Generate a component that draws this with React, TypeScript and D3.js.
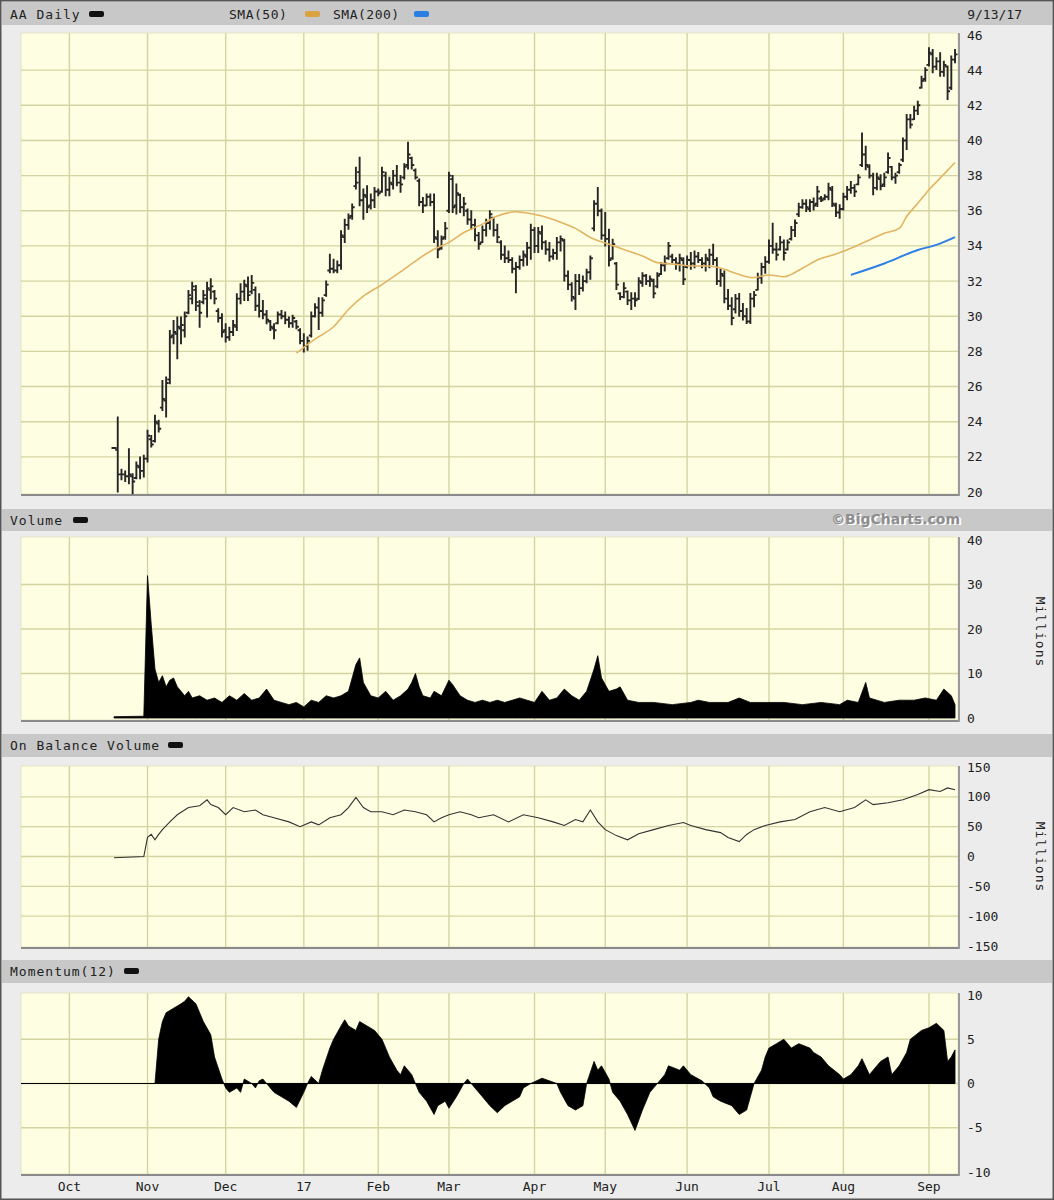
import React from 'react';
import * as d3 from 'd3';

// ---------- DATA ----------
const FIRST_BAR = 25; // trading-day index of first price bar (0 = 9/14/16)
const LAST_DAY = 251; // 9/13/17

const monthLabels = ['Oct', 'Nov', 'Dec', '17', 'Feb', 'Mar', 'Apr', 'May', 'Jun', 'Jul', 'Aug', 'Sep'];
const monthStartIdx = [13, 34, 55, 76, 96, 115, 138, 157, 179, 201, 221, 244];

const priceTicks = [20, 22, 24, 26, 28, 30, 32, 34, 36, 38, 40, 42, 44, 46];
const volumeTicks = [0, 10, 20, 30, 40];
const obvTicks = [-150, -100, -50, 0, 50, 100, 150];
const momentumTicks = [-10, -5, 0, 5, 10];

const priceHigh = [
  22.5, 24.27, 21.3, 21.2, 22.46, 21.04, 21.71, 21.99, 22.09, 23.51,
  23.22, 24.36, 24.08, 26.35, 26.54, 29.19, 29.76, 29.95, 29.95, 30.24,
  31.47, 31.94, 31.75, 30.9, 31.47, 31.94, 32.13, 31.47, 30.43, 30.14,
  29.57, 29.38, 29.76, 31.28, 31.85, 32.04, 32.23, 32.32, 31.66, 31.28,
  30.9, 30.33, 29.76, 29.57, 30.24, 30.33, 30.24, 29.95, 30.05, 29.76,
  29.29, 29.0, 28.82, 30.24, 30.71, 31.05, 31.05, 32.0, 33.52, 33.24,
  33.14, 34.86, 35.52, 35.81, 36.38, 38.48, 39.05, 37.24, 37.43, 36.95,
  37.33, 37.24, 38.48, 38.19, 37.9, 38.29, 38.57, 38.0, 38.67, 39.9,
  39.05, 38.38, 37.81, 36.76, 36.95, 36.95, 36.95, 34.86, 34.57, 35.33,
  38.19, 38.0, 37.52, 36.95, 36.76, 36.1, 36.0, 35.52, 34.76, 35.14,
  35.52, 36.0, 35.62, 35.24, 34.29, 34.0, 33.71, 33.33, 33.05, 33.43,
  33.71, 34.2, 35.24, 35.05, 35.05, 35.14, 34.29, 34.19, 33.81, 34.48,
  34.57, 34.38, 32.57, 31.9, 32.38, 32.38, 32.29, 32.67, 33.43, 36.57,
  37.33, 36.1, 35.9, 34.95, 34.38, 33.05, 31.33, 31.9, 31.43, 31.33,
  31.33, 32.19, 32.48, 32.38, 32.29, 32.1, 32.48, 33.05, 33.43, 34.19,
  33.52, 33.33, 33.52, 33.33, 33.43, 33.62, 33.71, 33.62, 33.33, 33.52,
  33.81, 34.1, 33.33, 32.67, 32.57, 31.52, 31.05, 31.24, 31.3, 30.73,
  30.44, 31.3, 31.4, 32.44, 33.01, 33.39, 34.34, 35.29, 34.15, 34.53,
  34.34, 34.34, 35.1, 35.48, 36.43, 36.62, 36.62, 36.62, 36.72, 37.38,
  36.81, 36.91, 37.57, 37.38, 36.43, 36.34, 37.0, 37.38, 37.67, 37.48,
  38.05, 40.43, 39.67, 38.62, 38.14, 38.14, 38.05, 38.14, 39.29, 38.52,
  38.14, 38.71, 40.14, 41.47, 41.47, 41.95, 42.23, 43.66, 44.13, 45.27,
  45.18, 44.7, 44.99, 44.51, 44.23, 44.8, 45.18,
];

const priceLow = [
  22.5, 20.0, 20.7, 20.6, 20.47, 19.9, 20.76, 20.76, 20.85, 21.71,
  22.56, 22.84, 23.41, 24.64, 24.27, 26.16, 28.44, 27.58, 28.44, 28.82,
  30.14, 30.71, 30.33, 29.38, 30.71, 29.95, 31.0, 30.71, 29.67, 28.82,
  28.53, 28.63, 28.91, 29.19, 30.71, 30.9, 30.9, 31.28, 30.33, 29.95,
  29.86, 29.57, 29.19, 28.72, 29.57, 29.86, 29.57, 29.38, 29.38, 29.29,
  28.44, 27.96, 28.06, 28.82, 29.95, 29.24, 30.0, 31.14, 32.48, 32.48,
  32.48, 32.67, 34.19, 34.95, 35.52, 37.24, 36.29, 35.52, 35.9, 36.1,
  36.19, 36.86, 37.05, 36.86, 36.86, 37.24, 37.43, 37.05, 37.81, 38.38,
  38.38, 37.81, 36.29, 35.9, 36.29, 36.29, 34.19, 33.33, 33.81, 34.38,
  35.9, 35.9, 35.81, 35.9, 35.71, 35.24, 34.95, 34.29, 33.81, 34.19,
  34.57, 34.95, 34.57, 34.19, 33.24, 33.05, 33.05, 32.48, 31.33, 32.67,
  32.86, 32.9, 33.24, 33.62, 33.62, 33.81, 33.52, 33.14, 33.24, 33.24,
  33.71, 32.0, 31.52, 30.86, 30.38, 31.24, 31.43, 31.9, 32.1, 34.86,
  35.71, 34.38, 34.0, 32.86, 33.24, 31.52, 30.95, 31.05, 30.67, 30.38,
  30.57, 30.95, 31.71, 31.81, 31.71, 31.05, 31.62, 32.38, 32.57, 33.24,
  33.05, 32.67, 32.57, 31.81, 32.76, 32.67, 32.76, 33.05, 32.76, 32.57,
  32.76, 32.95, 31.81, 31.71, 30.76, 30.38, 29.52, 30.19, 30.0, 29.78,
  29.59, 29.59, 30.54, 31.49, 31.87, 32.44, 33.01, 33.58, 33.2, 33.77,
  33.2, 33.77, 34.34, 34.53, 35.67, 36.15, 35.96, 35.96, 36.05, 36.24,
  36.53, 36.62, 36.62, 36.24, 35.67, 35.58, 36.05, 36.62, 37.0, 36.81,
  37.48, 38.52, 38.33, 37.86, 36.91, 37.19, 37.19, 37.38, 38.14, 37.76,
  37.57, 38.14, 38.81, 39.48, 40.71, 41.19, 41.47, 42.99, 43.37, 44.23,
  43.85, 44.04, 43.66, 43.66, 42.33, 42.9, 44.42,
];

const priceOpen = [
  22.5, 22.4, 21.0, 21.0, 20.9, 20.9, 20.8, 21.4, 21.2, 21.9,
  23.0, 22.9, 23.9, 24.8, 25.2, 26.4, 28.9, 29.0, 29.3, 29.2,
  30.2, 31.0, 31.5, 30.6, 30.8, 31.0, 31.5, 31.4, 30.3, 29.9,
  29.2, 28.8, 29.1, 29.4, 31.0, 31.4, 31.7, 31.4, 31.5, 30.6,
  30.3, 30.1, 29.7, 29.3, 29.6, 30.1, 30.0, 29.8, 29.6, 29.7,
  29.2, 28.6, 28.3, 28.9, 30.0, 30.5, 30.2, 31.2, 32.6, 32.7,
  32.6, 32.9, 34.5, 35.2, 35.7, 37.4, 38.2, 36.6, 36.8, 36.3,
  36.6, 37.1, 37.1, 38.0, 37.2, 37.5, 38.0, 37.6, 37.9, 38.6,
  39.0, 38.3, 37.7, 36.5, 36.3, 36.8, 36.5, 34.4, 33.9, 34.5,
  36.0, 37.8, 36.3, 36.9, 36.2, 36.0, 35.5, 35.2, 34.6, 34.2,
  34.9, 35.3, 35.6, 34.9, 34.2, 33.5, 33.3, 33.2, 32.7, 32.8,
  33.2, 33.4, 33.9, 34.9, 34.0, 34.7, 34.2, 33.8, 33.4, 33.6,
  34.2, 34.3, 32.3, 31.8, 31.0, 32.0, 31.6, 32.0, 32.5, 35.0,
  36.4, 36.0, 34.6, 34.4, 33.3, 33.0, 31.3, 31.1, 31.4, 30.9,
  31.0, 31.0, 31.9, 32.3, 32.0, 32.0, 31.7, 32.4, 32.9, 33.3,
  33.4, 33.2, 33.0, 33.2, 32.8, 33.2, 33.0, 33.4, 33.2, 33.0,
  33.2, 33.5, 33.2, 32.0, 32.3, 31.0, 30.6, 30.4, 31.0, 30.3,
  30.0, 29.7, 31.0, 31.5, 32.2, 32.8, 33.1, 34.0, 33.8, 33.8,
  34.2, 33.8, 34.4, 34.9, 35.8, 36.2, 36.4, 36.1, 36.5, 36.4,
  36.7, 36.7, 36.8, 37.2, 36.3, 35.9, 36.1, 36.8, 37.2, 37.3,
  37.5, 38.6, 39.2, 38.5, 38.0, 37.3, 37.8, 37.5, 38.2, 38.5,
  37.9, 38.2, 38.9, 40.0, 41.2, 41.2, 41.7, 43.0, 43.5, 44.3,
  44.9, 44.2, 44.5, 43.9, 44.2, 43.0, 44.6,
];

const priceClose = [
  22.5, 21.0, 21.0, 20.9, 21.0, 20.6, 21.5, 21.2, 21.9, 23.2,
  22.7, 24.0, 23.6, 25.3, 26.2, 28.8, 29.1, 29.4, 29.5, 30.0,
  31.2, 31.7, 30.8, 30.2, 31.2, 31.6, 31.7, 31.0, 29.9, 29.1,
  28.8, 29.1, 29.5, 31.0, 31.4, 31.8, 31.2, 31.9, 30.6, 30.3,
  30.1, 29.8, 29.4, 29.2, 30.1, 30.0, 29.8, 29.6, 29.9, 29.4,
  28.6, 28.3, 28.6, 30.0, 30.5, 30.2, 30.9, 31.8, 32.7, 32.6,
  32.9, 34.6, 35.2, 35.6, 36.2, 37.6, 36.6, 36.9, 36.2, 36.6,
  37.1, 37.0, 38.2, 37.2, 37.6, 38.0, 37.6, 37.5, 38.5, 39.2,
  38.6, 37.9, 36.5, 36.3, 36.8, 36.5, 34.5, 33.8, 34.4, 35.0,
  38.0, 36.2, 37.0, 36.2, 36.4, 35.5, 35.2, 34.6, 34.1, 34.9,
  35.3, 35.8, 34.9, 34.5, 33.5, 33.3, 33.2, 32.7, 32.8, 33.2,
  33.5, 33.9, 34.9, 34.0, 34.8, 34.2, 33.8, 33.4, 33.6, 34.2,
  34.4, 32.3, 31.8, 31.1, 32.0, 31.6, 32.0, 32.5, 33.3, 36.4,
  36.0, 34.6, 34.4, 33.2, 34.1, 31.8, 31.1, 31.6, 30.9, 31.0,
  30.9, 32.0, 32.3, 32.0, 32.1, 31.3, 32.3, 32.9, 33.0, 34.0,
  33.2, 33.0, 33.3, 32.1, 33.2, 33.0, 33.4, 33.2, 33.0, 33.3,
  33.5, 33.2, 32.0, 32.4, 31.0, 30.6, 29.9, 31.0, 30.3, 30.0,
  29.7, 31.0, 31.2, 32.2, 32.8, 33.1, 34.0, 33.8, 33.5, 34.2,
  33.6, 34.2, 34.9, 35.3, 36.2, 36.4, 36.2, 36.5, 36.3, 37.1,
  36.6, 36.8, 37.3, 36.4, 35.9, 36.1, 36.8, 37.2, 37.3, 37.1,
  37.9, 39.2, 38.6, 38.0, 37.3, 37.9, 37.4, 37.9, 39.0, 37.9,
  38.0, 38.6, 40.0, 41.2, 40.9, 41.7, 42.0, 43.4, 44.0, 45.0,
  44.2, 44.5, 43.9, 44.3, 42.8, 44.6, 44.9,
];

// SMA lines (trading-day index, price)
const sma50Idx = [74, 79, 84, 88, 92, 97, 101, 106, 110, 115, 119, 124, 128, 133, 135, 140, 144, 149, 153, 158, 162, 167, 171, 176, 180, 185, 189, 192, 195, 197, 201, 205, 210, 214, 219, 223, 228, 232, 236, 238, 241, 244, 247, 251];
const sma50Val = [27.9, 28.7, 29.4, 30.38, 31.14, 31.8, 32.38, 33.14, 33.7, 34.2, 34.76, 35.24, 35.7, 35.94, 35.9, 35.7, 35.43, 35.0, 34.48, 34.1, 33.8, 33.43, 33.05, 32.95, 32.86, 32.86, 32.67, 32.44, 32.25, 32.2, 32.35, 32.25, 32.73, 33.2, 33.54, 33.87, 34.34, 34.72, 35.0, 35.67, 36.43, 37.2, 37.86, 38.75];
const sma200Idx = [223, 232, 241, 246, 251];
const sma200Val = [32.35, 33.0, 33.77, 34.06, 34.5];

// Volume (millions), index / value pairs
const volIdx = [25, 33, 34, 35, 36, 37, 38, 39, 40, 41, 42, 43, 44, 45, 46, 48, 50, 52, 54, 56, 58, 60, 62, 64, 66, 68, 70, 72, 74, 76, 78, 80, 82, 84, 86, 88, 90, 91, 92, 94, 96, 98, 100, 102, 104, 105, 106, 107, 108, 110, 111, 113, 115, 116, 118, 120, 122, 124, 126, 128, 130, 132, 134, 136, 138, 140, 142, 144, 146, 148, 150, 152, 153, 154, 155, 156, 158, 160, 161, 163, 166, 170, 175, 180, 182, 185, 190, 193, 196, 200, 205, 210, 215, 220, 222, 225, 227, 228, 232, 236, 240, 243, 246, 248, 250, 251];
const volVal = [0.3, 0.4, 32, 21, 11, 8, 9.5, 7, 8.5, 9, 7, 6, 5, 6, 4.5, 5, 4, 4.5, 3.5, 5, 4, 5.5, 4, 4.5, 6.5, 4, 3.5, 3, 3.5, 2.5, 4, 3.5, 5, 4.5, 5, 6, 12, 13.5, 8, 5, 4.5, 6, 4, 5, 6.5, 8, 10, 7, 5, 4.5, 6, 5, 8.5, 7.5, 5, 4, 3.5, 4, 3.5, 4, 3.5, 4, 4.5, 4, 3.5, 6, 4, 4.5, 6.5, 5, 4, 6, 8.5, 11, 14, 9, 6, 6.5, 7, 4, 3.5, 3.5, 3, 3.5, 4, 3.5, 3.5, 4.5, 3.5, 3.5, 3.5, 3, 3.5, 3, 4, 3.5, 8, 4.5, 3.5, 4, 4, 4.5, 4, 6.5, 5, 3];

// On Balance Volume (millions)
const obvIdx = [25, 33, 34, 35, 36, 37, 38, 40, 42, 45, 48, 50, 51, 53, 55, 57, 60, 63, 65, 68, 72, 75, 78, 80, 83, 86, 88, 90, 92, 94, 97, 100, 103, 106, 109, 111, 113, 115, 118, 121, 123, 127, 131, 135, 139, 143, 146, 149, 151, 153, 155, 157, 160, 163, 166, 170, 174, 178, 180, 184, 188, 190, 193, 195, 197, 200, 204, 208, 212, 216, 220, 224, 227, 229, 233, 237, 241, 244, 247, 249, 251];
const obvVal = [-2, 0, 32, 37, 28, 37, 45, 58, 70, 82, 85, 95, 87, 82, 70, 82, 75, 78, 70, 65, 58, 50, 58, 53, 65, 70, 82, 99, 82, 75, 75, 70, 78, 75, 70, 58, 65, 70, 75, 70, 65, 70, 58, 70, 65, 58, 52, 62, 58, 78, 58, 45, 35, 28, 38, 45, 52, 57, 52, 45, 40, 32, 25, 37, 45, 52, 58, 62, 75, 82, 75, 82, 95, 87, 90, 95, 104, 112, 109, 115, 112];

// Momentum(12)
const momIdx = [36, 37, 38, 39, 41, 43, 44, 45, 47, 48, 49, 51, 52, 54, 55, 56, 58, 59, 60, 62, 63, 64, 65, 67, 68, 70, 72, 74, 76, 77, 78, 80, 81, 83, 84, 86, 87, 88, 90, 91, 93, 95, 97, 99, 101, 102, 103, 105, 106, 107, 109, 111, 112, 114, 115, 117, 119, 120, 122, 124, 126, 128, 130, 132, 134, 135, 137, 140, 142, 144, 145, 147, 149, 151, 152, 154, 155, 156, 158, 159, 161, 163, 165, 167, 169, 171, 173, 174, 177, 178, 180, 183, 185, 186, 188, 191, 193, 195, 196, 197, 199, 200, 201, 203, 205, 207, 209, 212, 213, 215, 217, 220, 221, 223, 225, 226, 228, 229, 231, 233, 234, 236, 238, 239, 242, 244, 246, 248, 249, 250, 251];
const momVal = [0, 5, 7, 8, 8.5, 9, 9.3, 9.8, 9, 8, 7, 5.5, 3, 0.5, -0.5, -1, -0.5, -1, 0.5, 0, -0.5, 0.3, 0.5, -0.5, -1, -1.5, -2, -2.7, -1, 0, 0.8, 0, 1.5, 4, 5, 6.5, 7.2, 6.5, 6, 7, 6.5, 6, 5, 3, 1.5, 1, 2, 1, 0, -1, -2, -3.5, -2.5, -2, -2.8, -1.5, 0, 0.5, -0.5, -1.5, -2.5, -3.3, -2.5, -2, -1.5, -0.5, 0, 0.6, 0.3, 0, -1, -2.5, -3, -2.5, 0, 2.5, 1.5, 2, 0.5, -1, -2, -3.5, -5.3, -3, -1, 0, 1, 2, 1.5, 2, 1, 0.3, -0.5, -1.5, -2, -2.5, -3.5, -3, -1.5, 0, 1.5, 3, 4, 4.5, 5, 4, 4.5, 4, 3.5, 3, 2, 1, 0.5, 1, 2, 2.8, 1, 1.5, 2.5, 3, 1, 2, 3.5, 5, 6, 6.3, 6.8, 6, 2.5, 3, 3.8];

// ---------- LAYOUT ----------
const W = 1054;
const H = 1200;
const PX0 = 21;
const PX1 = 958;
const MONO = "'DejaVu Sans Mono', 'Liberation Mono', monospace";
const BG = '#ececec';
const BAR_GRAY = '#c8c8c8';
const PLOT_BG = '#fefee2';
const GRID = '#d4d4a2';

const x = d3.scaleLinear().domain([0, 251.8]).range([PX0, PX1]);
const yPrice = d3.scaleLinear().domain([20, 46]).range([492, 35]);
const yVol = d3.scaleLinear().domain([0, 40]).range([718, 540]);
const yObv = d3.scaleLinear().domain([-150, 150]).range([946, 767]);
const yMom = d3.scaleLinear().domain([-10, 10]).range([1172, 995]);

function Panel({ top, bottom, y, grid, labels, fmt }: any) {
  return (
    <g>
      <rect x={PX0} y={top} width={PX1 - PX0} height={bottom - top} fill={PLOT_BG} stroke="#e4e4c4" strokeWidth={1} />
      {monthStartIdx.map((m, k) => (
        <line key={'v' + k} x1={x(m)} x2={x(m)} y1={top} y2={bottom} stroke={GRID} strokeWidth={1.4} />
      ))}
      {grid.map((g: number, k: number) => (
        <line key={'h' + k} x1={PX0} x2={PX1} y1={y(g)} y2={y(g)} stroke={GRID} strokeWidth={1.4} />
      ))}
      <line x1={PX0} x2={PX1 + 2} y1={bottom + 1} y2={bottom + 1} stroke="#8a8a8a" strokeWidth={2} />
      <line x1={PX1 + 1} x2={PX1 + 1} y1={top} y2={bottom + 2} stroke="#9a9a9a" strokeWidth={2} />
      {labels.map((v: number, k: number) => (
        <text key={'t' + k} x={967} y={y(v)} dy="0.35em" fontSize={13} fill="#222" fontFamily={MONO}>
          {fmt ? fmt(v) : String(v)}
        </text>
      ))}
    </g>
  );
}

function HeaderBar({ y0, y1 }: any) {
  return <rect x={2} y={y0} width={W - 4} height={y1 - y0} fill={BAR_GRAY} />;
}

function Swatch({ x0, yc, color }: any) {
  return <rect x={x0} y={yc - 3} width={15} height={6} rx={2} fill={color} />;
}

export default function App() {
  // price bars
  let bars = '';
  for (let k = 0; k < priceHigh.length; k++) {
    const i = FIRST_BAR + k;
    const cx = x(i);
    const yh = yPrice(priceHigh[k]);
    const yl = yPrice(priceLow[k]);
    const yo = yPrice(priceOpen[k]);
    const yc = yPrice(priceClose[k]);
    if (Math.abs(yl - yh) > 0.5) bars += `M${cx},${yh - 0.5}V${yl + 0.5}`;
    bars += `M${cx - 2.5},${yo}H${cx}M${cx},${yc}H${cx + 2.5}`;
  }

  const smaLine = d3.line<number>().curve(d3.curveMonotoneX);
  const sma50Path = smaLine(sma50Idx.map((i, k) => [x(i), yPrice(sma50Val[k])] as any) as any);
  const sma200Path = smaLine(sma200Idx.map((i, k) => [x(i), yPrice(sma200Val[k])] as any) as any);

  const volArea = d3
    .area<number>()
    .x((_, k) => x(volIdx[k]))
    .y0(yVol(0))
    .y1((v) => yVol(v))(volVal);

  const obvPath = d3
    .line<number>()
    .x((_, k) => x(obvIdx[k]))
    .y((v) => yObv(v))(obvVal);

  const momArea = d3
    .area<number>()
    .x((_, k) => x(momIdx[k]))
    .y0(yMom(0))
    .y1((v) => yMom(v))(momVal);

  return (
    <>
      <style>{'body{margin:0}'}</style>
      <svg width={W} height={H} style={{ display: 'block' }} fontFamily={MONO}>
        <rect x={0} y={0} width={W} height={H} fill={BG} />
        <rect x={0.75} y={0.75} width={W - 1.5} height={H - 1.5} fill="none" stroke="#555" strokeWidth={1.5} />

        {/* top header */}
        <HeaderBar y0={2} y1={25} />
        <text x={10} y={14} dy="0.35em" fontSize={13} letterSpacing={1} fill="#222">AA Daily</text>
        <Swatch x0={89} yc={14} color="#111" />
        <text x={229} y={14} dy="0.35em" fontSize={13} letterSpacing={0.5} fill="#222">SMA(50)</text>
        <Swatch x0={305} yc={14} color="#d9a43f" />
        <text x={333} y={14} dy="0.35em" fontSize={13} letterSpacing={0.5} fill="#222">SMA(200)</text>
        <Swatch x0={414} yc={14} color="#2a7de1" />
        <text x={1022} y={14} dy="0.35em" fontSize={13} textAnchor="end" fill="#222">9/13/17</text>

        {/* price panel */}
        <Panel top={33} bottom={494} y={yPrice} grid={priceTicks.slice(1, -1)} labels={priceTicks} />
        <path d={bars} stroke="#262626" strokeWidth={1.9} fill="none" />
        <path d={sma50Path || ''} stroke="#e2b464" strokeWidth={1.6} fill="none" />
        <path d={sma200Path || ''} stroke="#2f7fe6" strokeWidth={2} fill="none" />

        {/* volume */}
        <HeaderBar y0={509} y1={531} />
        <text x={10} y={520} dy="0.35em" fontSize={13} letterSpacing={1} fill="#222">Volume</text>
        <Swatch x0={73} yc={520} color="#111" />
        <text x={961} y={520} dy="0.35em" fontSize={14} fontWeight="bold" textAnchor="end" fill="#fff" fontFamily="'DejaVu Sans', sans-serif" dx={1}>©BigCharts.com</text>
        <text x={960} y={519} dy="0.35em" fontSize={14} fontWeight="bold" textAnchor="end" fill="#8e8e8e" fontFamily="'DejaVu Sans', sans-serif">©BigCharts.com</text>
        <Panel top={537} bottom={720} y={yVol} grid={[10, 20, 30]} labels={volumeTicks} />
        <path d={volArea || ''} fill="#000" stroke="#000" strokeWidth={0.8} />
        <text transform="translate(1036,632) rotate(90)" fontSize={13} letterSpacing={1} textAnchor="middle" fill="#222">Millions</text>

        {/* OBV */}
        <HeaderBar y0={734} y1={757} />
        <text x={10} y={745} dy="0.35em" fontSize={13} letterSpacing={1} fill="#222">On Balance Volume</text>
        <Swatch x0={168} yc={745} color="#111" />
        <Panel top={766} bottom={947} y={yObv} grid={[-100, -50, 0, 50, 100]} labels={obvTicks} />
        <path d={obvPath || ''} stroke="#333" strokeWidth={1.1} fill="none" />
        <text transform="translate(1036,857) rotate(90)" fontSize={13} letterSpacing={1} textAnchor="middle" fill="#222">Millions</text>

        {/* Momentum */}
        <HeaderBar y0={960} y1={983} />
        <text x={10} y={971} dy="0.35em" fontSize={13} letterSpacing={1} fill="#222">Momentum(12)</text>
        <Swatch x0={124} yc={971} color="#111" />
        <Panel top={993} bottom={1174} y={yMom} grid={[-5, 0, 5]} labels={momentumTicks} />
        <line x1={x(0)} x2={x(LAST_DAY)} y1={yMom(0)} y2={yMom(0)} stroke="#000" strokeWidth={1.2} />
        <path d={momArea || ''} fill="#000" stroke="#000" strokeWidth={0.8} />

        {/* month axis */}
        {monthStartIdx.map((m, k) => (
          <text key={'m' + k} x={x(m)} y={1186} dy="0.35em" fontSize={13} textAnchor="middle" fill="#222">
            {monthLabels[k]}
          </text>
        ))}
      </svg>
    </>
  );
}
